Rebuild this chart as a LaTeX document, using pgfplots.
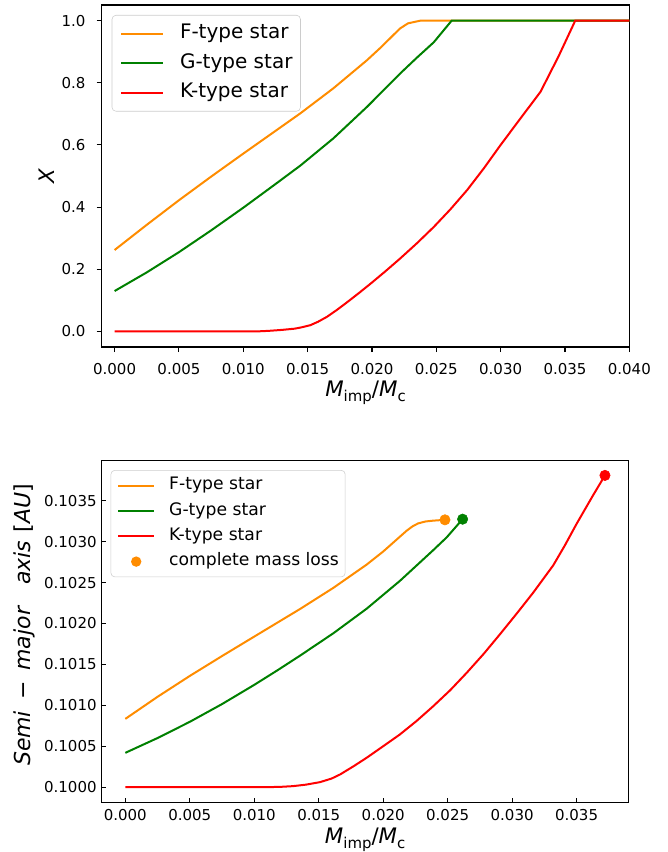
\documentclass[border=0pt]{standalone}
\usepackage{fontspec}
\setmainfont{DejaVu Sans}[ItalicFont={DejaVu Sans Oblique}]
\usepackage{pgfplots}
\pgfplotsset{compat=1.18}
\definecolor{cF}{HTML}{FF8C00}
\definecolor{cG}{HTML}{008000}
\definecolor{cK}{HTML}{FF0000}
\newcommand{\Mlab}{\textit{M}\raisebox{-0.22em}{\fontsize{11.2}{12}\selectfont imp}/\textit{M}\raisebox{-0.22em}{\fontsize{11.2}{12}\selectfont c}}
\pgfplotsset{
  every axis/.append style={
    /pgf/number format/assume math mode=true,
    scale only axis, width=395.7pt, height=256.5pt,
    axis line style={line width=0.8pt},
    tick style={black, line width=0.8pt},
    major tick length=3.75pt,
    xtick pos=left, ytick pos=left,
    scaled x ticks=false, scaled y ticks=false,
    tick label style={font=\fontsize{11.25}{13}\selectfont},
    legend cell align=left,
  },
}
\begin{document}
\begin{tikzpicture}
\useasboundingbox (0,0) rectangle (500.25pt,-639pt);
% ---------- top ----------
\begin{axis}[
  at={(76.3pt,-3.75pt)}, anchor=north west,
  xmin=-0.001, xmax=0.040, ymin=-0.05, ymax=1.05,
  tick align=outside,
  xtick={0,0.005,0.01,0.015,0.02,0.025,0.03,0.035,0.04},
  ytick={0,0.2,0.4,0.6,0.8,1.0},
  xticklabel style={/pgf/number format/.cd, fixed, fixed zerofill, precision=3, /tikz/.cd, yshift=-5.25pt},
  yticklabel style={/pgf/number format/.cd, fixed, fixed zerofill, precision=1, /tikz/.cd, xshift=-5pt},
  xlabel={\Mlab},
  xlabel style={at={(axis description cs:0.5,-0.099)}, anchor=north, inner sep=0pt, font=\fontsize{16}{18}\selectfont},
  ylabel={\textit{X}},
  ylabel style={at={(axis description cs:-0.1037,0.5)}, anchor=center, inner sep=0pt, font=\fontsize{16}{18}\selectfont},
  legend style={at={(axis description cs:0,1)}, anchor=north west, xshift=7.5pt, yshift=-7.5pt,
    draw=black!20, rounded corners=3pt, fill=white,
    font=\fontsize{15}{18}\selectfont, inner xsep=6pt, inner ysep=6.75pt, row sep=7.5pt,
    nodes={inner sep=0pt, text height=11pt, text depth=3.5pt},
    /tikz/every odd column/.style={column sep=12pt}},
  legend image code/.code={\draw[line width=1.5pt] (0pt,0pt) -- (31.5pt,0pt);},
]
\addplot[cF, line width=1.5pt] coordinates {
(0,0.262)(0.0025,0.343)(0.005,0.422)(0.0075,0.498)(0.01,0.572)(0.0125,0.645)(0.01445,0.702)(0.017,0.782)(0.0196,0.872)(0.0207,0.914)(0.0217,0.955)(0.0222,0.975)(0.0228,0.991)(0.0238,1.0)(0.04,1.0)};
\addlegendentry{F-type star}
\addplot[cG, line width=1.5pt] coordinates {
(0,0.130)(0.0025,0.190)(0.005,0.255)(0.0075,0.325)(0.01,0.398)(0.0125,0.474)(0.01445,0.534)(0.017,0.621)(0.01963,0.723)(0.0222,0.830)(0.0235,0.881)(0.0248,0.930)(0.0262,1.0)(0.04,1.0)};
\addlegendentry{G-type star}
\addplot[cK, line width=1.5pt] coordinates {
(0,0)(0.011,0)(0.012,0.002)(0.013,0.005)(0.014,0.009)(0.0145,0.013)(0.0152,0.020)(0.0158,0.031)(0.0165,0.047)(0.0173,0.070)(0.0181,0.095)(0.019,0.124)(0.0199,0.154)(0.021,0.192)(0.0222,0.235)(0.0235,0.284)(0.0248,0.336)(0.0261,0.393)(0.0274,0.455)(0.0287,0.525)(0.030,0.600)(0.0315,0.683)(0.0331,0.771)(0.0345,0.885)(0.0358,1.0)(0.04,1.0)};
\addlegendentry{K-type star}
\end{axis}
% ---------- bottom ----------
\begin{axis}[
  at={(76pt,-345.5pt)}, anchor=north west,
  xmin=-0.00186, xmax=0.03906, ymin=0.09981, ymax=0.10399,
  tick align=inside,
  xtick={0,0.005,0.01,0.015,0.02,0.025,0.03,0.035},
  ytick={0.1,0.1005,0.101,0.1015,0.102,0.1025,0.103,0.1035},
  xticklabel style={/pgf/number format/.cd, fixed, fixed zerofill, precision=3, /tikz/.cd, yshift=-1.25pt},
  yticklabel style={/pgf/number format/.cd, fixed, fixed zerofill, precision=4, /tikz/.cd, xshift=0pt},
  xlabel={\Mlab},
  xlabel style={at={(axis description cs:0.5,-0.073)}, anchor=north, inner sep=0pt, font=\fontsize{16}{18}\selectfont},
  ylabel={\textit{Semi}\hspace{0.5em}−\hspace{0.5em}\textit{major}\hspace{0.95em}\textit{axis}\hspace{0.4em}[\textit{AU}]},
  ylabel style={at={(axis description cs:-0.1455,0.52)}, anchor=center, inner sep=0pt, font=\fontsize{16.5}{18}\selectfont},
  legend style={at={(axis description cs:0,1)}, anchor=north west, xshift=7pt, yshift=-7pt,
    draw=black!20, rounded corners=3pt, fill=white,
    font=\fontsize{12.9}{15}\selectfont, inner xsep=4.7pt, inner ysep=5.1pt, row sep=6.2pt,
    nodes={inner sep=0pt, text height=9.5pt, text depth=3.3pt},
    /tikz/every odd column/.style={column sep=10.5pt}},
  legend image code/.code={\draw[line width=1.5pt] (0pt,0pt) -- (27pt,0pt);},
]
\addplot[cF, line width=1.5pt] coordinates {
(0,0.100834)(0.0025,0.101104)(0.005,0.101359)(0.0075,0.101602)(0.01,0.101840)(0.01355,0.102177)(0.01613,0.102435)(0.01872,0.102720)(0.02001,0.102881)(0.02129,0.103060)(0.02182,0.103134)(0.0223,0.103190)(0.02272,0.103224)(0.0233,0.103247)(0.02388,0.103257)(0.02479,0.103267)};
\addlegendentry{F-type star}
\addplot[cG, line width=1.5pt] coordinates {
(0,0.100419)(0.0025,0.100600)(0.005,0.100798)(0.0075,0.101015)(0.01,0.101250)(0.0118,0.101428)(0.01355,0.101607)(0.01613,0.101880)(0.01872,0.102181)(0.02129,0.102520)(0.02388,0.102896)(0.02492,0.103052)(0.02616,0.103275)};
\addlegendentry{G-type star}
\addplot[cK, line width=1.5pt] coordinates {
(0,0.1)(0.011,0.1)(0.012,0.100003)(0.013,0.100012)(0.014,0.100030)(0.0151,0.100061)(0.016,0.100105)(0.01666,0.100155)(0.0177,0.100255)(0.01872,0.100359)(0.02,0.100500)(0.02129,0.100643)(0.0226,0.100810)(0.02388,0.100989)(0.0252,0.101185)(0.02647,0.101396)(0.0278,0.101630)(0.02906,0.101869)(0.0304,0.102130)(0.03164,0.102378)(0.03319,0.102711)(0.0341,0.102957)(0.0350,0.103218)(0.03629,0.103570)(0.0372,0.103810)};
\addlegendentry{K-type star}
\addplot[cF, only marks, mark=*, mark size=3.9pt,
  legend image code/.code={\path[draw=none] (0pt,0pt) -- (27pt,0pt); \fill[cF, draw=none] (13.5pt,0pt) circle (3.9pt);}] coordinates {(0.02479,0.103267)};
\addlegendentry{complete mass loss}
\addplot[cG, only marks, mark=*, mark size=3.9pt, forget plot] coordinates {(0.02616,0.103275)};
\addplot[cK, only marks, mark=*, mark size=3.9pt, forget plot] coordinates {(0.0372,0.103810)};
\end{axis}
\end{tikzpicture}
\end{document}
